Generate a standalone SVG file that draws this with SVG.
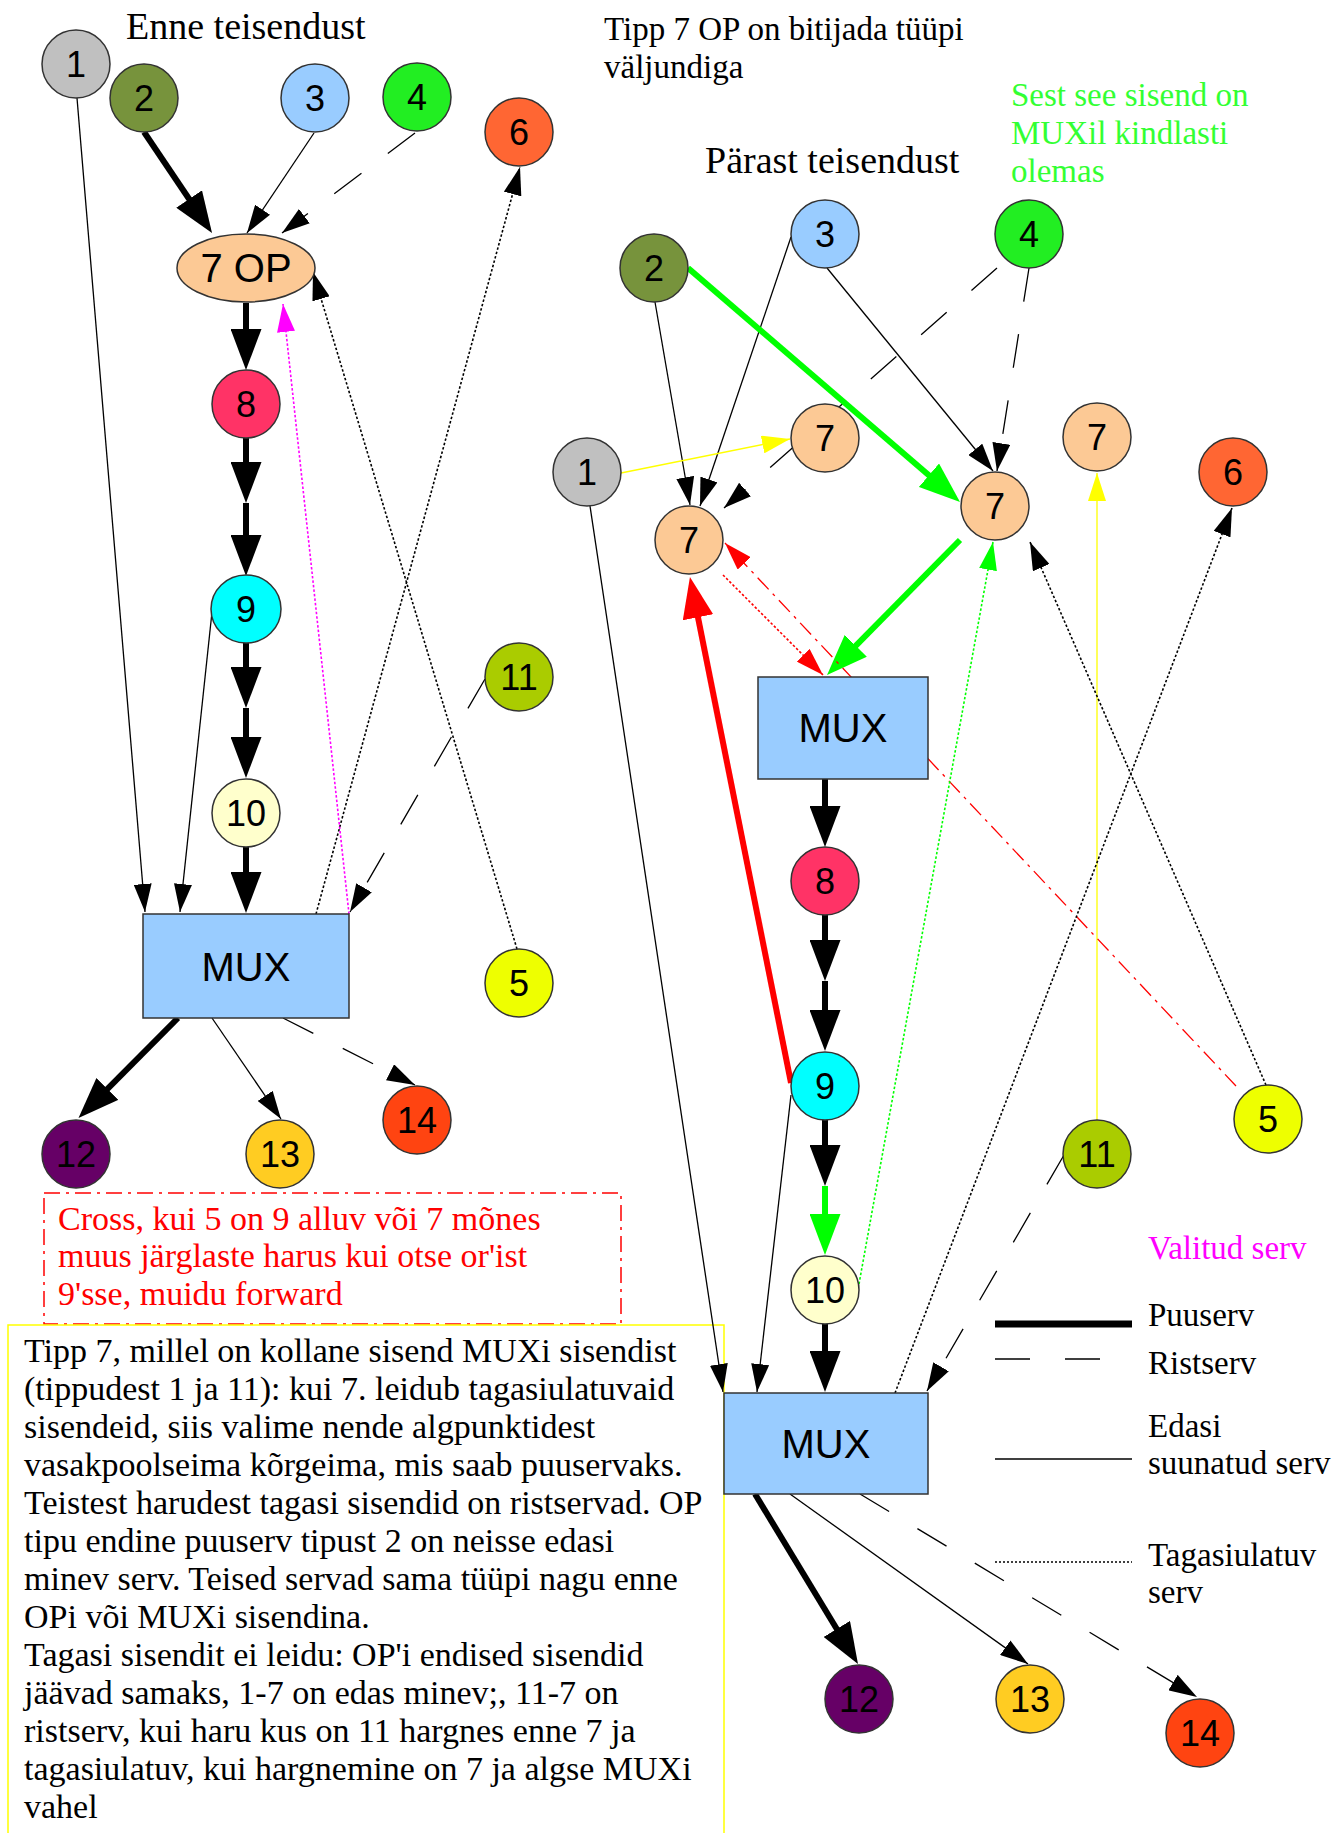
<svg xmlns="http://www.w3.org/2000/svg" width="1342" height="1833" viewBox="0 0 1342 1833">
<style>
.bg{fill:#ffffff}
.nd{stroke:#333333;stroke-width:1.5}
.lbl{font-family:"Liberation Sans",Arial,sans-serif;font-size:36px;text-anchor:middle;fill:#000}
.mux{font-family:"Liberation Sans",Arial,sans-serif;font-size:40px;text-anchor:middle;fill:#000}
.tx{font-family:"Liberation Serif","Times New Roman",serif;font-size:33px;fill:#000}
.tp{font-family:"Liberation Serif","Times New Roman",serif;font-size:34px;fill:#000}
.ttl{font-family:"Liberation Serif","Times New Roman",serif;font-size:38px;fill:#000}
.e{fill:none;stroke:#000;stroke-width:1.3}
.tk{fill:none;stroke:#000;stroke-width:6}
.ds{stroke-dasharray:34 33}
.dt{stroke-dasharray:2.5 2;stroke-width:1.6}
</style>
<defs>
<marker id="ah" viewBox="0 0 28 18" refX="28" refY="9" markerWidth="28" markerHeight="18" markerUnits="userSpaceOnUse" orient="auto"><path d="M0,0L28,9L0,18z" fill="#000"/></marker>
<marker id="AH" viewBox="0 0 41 31" refX="3" refY="15.5" markerWidth="41" markerHeight="31" markerUnits="userSpaceOnUse" orient="auto"><path d="M0,0L41,15.5L0,31z" fill="#000"/></marker>
<marker id="AHG" viewBox="0 0 41 31" refX="3" refY="15.5" markerWidth="41" markerHeight="31" markerUnits="userSpaceOnUse" orient="auto"><path d="M0,0L41,15.5L0,31z" fill="#00ff00"/></marker>
<marker id="AHR" viewBox="0 0 41 31" refX="3" refY="15.5" markerWidth="41" markerHeight="31" markerUnits="userSpaceOnUse" orient="auto"><path d="M0,0L41,15.5L0,31z" fill="#ff0000"/></marker>
<marker id="ahg" viewBox="0 0 28 18" refX="28" refY="9" markerWidth="28" markerHeight="18" markerUnits="userSpaceOnUse" orient="auto"><path d="M0,0L28,9L0,18z" fill="#00ff00"/></marker>
<marker id="ahy" viewBox="0 0 28 18" refX="28" refY="9" markerWidth="28" markerHeight="18" markerUnits="userSpaceOnUse" orient="auto"><path d="M0,0L28,9L0,18z" fill="#ffff00"/></marker>
<marker id="ahr" viewBox="0 0 28 18" refX="28" refY="9" markerWidth="28" markerHeight="18" markerUnits="userSpaceOnUse" orient="auto"><path d="M0,0L28,9L0,18z" fill="#ff0000"/></marker>
<marker id="ahm" viewBox="0 0 28 18" refX="28" refY="9" markerWidth="28" markerHeight="18" markerUnits="userSpaceOnUse" orient="auto"><path d="M0,0L28,9L0,18z" fill="#ff00ff"/></marker>
</defs>
<rect class="bg" x="0" y="0" width="1342" height="1833"/>

<!-- texts -->
<g id="titles">
<text class="ttl" x="126" y="39">Enne teisendust</text>
<text class="tx" x="604" y="40">Tipp 7 OP on bitijada tüüpi</text>
<text class="tx" x="604" y="78">väljundiga</text>
<text class="ttl" x="705" y="173">Pärast teisendust</text>
<text class="tx" x="1011" y="106" style="fill:#33ff33">Sest see sisend on</text>
<text class="tx" x="1011" y="144" style="fill:#33ff33">MUXil kindlasti</text>
<text class="tx" x="1011" y="182" style="fill:#33ff33">olemas</text>
</g>

<!-- red note -->
<g id="rednote">
<rect x="44" y="1193" width="577" height="131" fill="none" stroke="#ff0000" stroke-width="1.5" stroke-dasharray="16 6 3 6"/>
<text class="tp" x="58" y="1230" style="fill:#ff0000">Cross, kui 5 on 9 alluv või 7 mõnes</text>
<text class="tp" x="58" y="1267" style="fill:#ff0000">muus järglaste harus kui otse or'ist</text>
<text class="tp" x="58" y="1305" style="fill:#ff0000">9'sse, muidu forward</text>
</g>

<!-- yellow note -->
<g id="yellownote">
<rect x="8" y="1325" width="716" height="520" fill="#ffffff" stroke="#ffff00" stroke-width="1.5"/>
<text class="tp" x="24" y="1362">Tipp 7, millel on kollane sisend MUXi sisendist</text>
<text class="tp" x="24" y="1400">(tippudest 1 ja 11): kui 7. leidub tagasiulatuvaid</text>
<text class="tp" x="24" y="1438">sisendeid, siis valime nende algpunktidest</text>
<text class="tp" x="24" y="1476">vasakpoolseima kõrgeima, mis saab puuservaks.</text>
<text class="tp" x="24" y="1514">Teistest harudest tagasi sisendid on ristservad. OP</text>
<text class="tp" x="24" y="1552">tipu endine puuserv tipust 2 on neisse edasi</text>
<text class="tp" x="24" y="1590">minev serv. Teised servad sama tüüpi nagu enne</text>
<text class="tp" x="24" y="1628">OPi või MUXi sisendina.</text>
<text class="tp" x="24" y="1666">Tagasi sisendit ei leidu: OP'i endised sisendid</text>
<text class="tp" x="24" y="1704">jäävad samaks, 1-7 on edas minev;, 11-7 on</text>
<text class="tp" x="24" y="1742">ristserv, kui haru kus on 11 hargnes enne 7 ja</text>
<text class="tp" x="24" y="1780">tagasiulatuv, kui hargnemine on 7 ja algse MUXi</text>
<text class="tp" x="24" y="1818">vahel</text>
</g>

<!-- connectors -->
<g id="connectors">
<!-- left -->
<path class="e" d="M77,98L145,912" marker-end="url(#ah)"/>
<path class="tk" d="M144,132L190.8,201.5" marker-end="url(#AH)"/>
<path class="e" d="M314,133L247,233" marker-end="url(#ah)"/>
<path class="e ds" d="M415,133L282,233" marker-end="url(#ah)"/>
<path class="tk" d="M246,303L246,332" marker-end="url(#AH)"/>
<path class="tk" d="M246,438L246,465" marker-end="url(#AH)"/>
<path class="tk" d="M246,503L246,538" marker-end="url(#AH)"/>
<path class="tk" d="M246,643L246,670" marker-end="url(#AH)"/>
<path class="tk" d="M246,708L246,740" marker-end="url(#AH)"/>
<path class="tk" d="M246,846L246,875" marker-end="url(#AH)"/>
<path class="e" d="M212,612L180,912" marker-end="url(#ah)"/>
<path class="tk" d="M178,1018L105.3,1091.1" marker-end="url(#AH)"/>
<path class="e" d="M212,1018L281,1119" marker-end="url(#ah)"/>
<path class="e ds" d="M283,1018L415,1085" marker-end="url(#ah)"/>
<path class="e ds" d="M485,679L350,912" marker-end="url(#ah)"/>
<path class="e dt" d="M316,914L520,167" marker-end="url(#ah)"/>
<path class="e dt" d="M517,949L313,272" marker-end="url(#ah)"/>
<path class="e dt" d="M349,914L283,304" style="stroke:#ff00ff" marker-end="url(#ahm)"/>
<!-- right -->
<path class="e" d="M655,302L690,505" marker-end="url(#ah)"/>
<path class="e" d="M791,237L700,506" marker-end="url(#ah)"/>
<path class="e" d="M827,268L993,471" marker-end="url(#ah)"/>
<path class="e ds" d="M1029,268L997,471" marker-end="url(#ah)"/>
<path class="e ds" d="M997,268L724,508" marker-end="url(#ah)"/>
<path class="tk" d="M688,268L931.2,477.2" style="stroke:#00ff00" marker-end="url(#AHG)"/>
<path class="e" d="M621,473L790,439" style="stroke:#ffff00" marker-end="url(#ahy)"/>
<path class="e" d="M1097,1120L1097,473" style="stroke:#ffff00" marker-end="url(#ahy)"/>
<path class="tk" d="M960,540L853.7,647.9" style="stroke:#00ff00" marker-end="url(#AHG)"/>
<path class="e dt" d="M723,575L823,675" style="stroke:#ff0000" marker-end="url(#ahr)"/>
<path class="e" d="M1236,1086L725,543" style="stroke:#ff0000;stroke-dasharray:16 6 3 6" marker-end="url(#ahr)"/>
<path class="tk" d="M791,1083L697.4,614.3" style="stroke:#ff0000" marker-end="url(#AHR)"/>
<path class="e dt" d="M859,1284L993,542" style="stroke:#00ff00" marker-end="url(#ahg)"/>
<path class="e dt" d="M1266,1085L1030,542" marker-end="url(#ah)"/>
<path class="e dt" d="M895,1393L1232,508" marker-end="url(#ah)"/>
<path class="tk" d="M825,779L825,809" marker-end="url(#AH)"/>
<path class="tk" d="M825,914L825,943" marker-end="url(#AH)"/>
<path class="tk" d="M825,981L825,1013" marker-end="url(#AH)"/>
<path class="tk" d="M825,1119L825,1148" marker-end="url(#AH)"/>
<path class="tk" d="M825,1186L825,1217" style="stroke:#00ff00" marker-end="url(#AHG)"/>
<path class="tk" d="M825,1323L825,1354" marker-end="url(#AH)"/>
<path class="e" d="M590,506L723,1392" marker-end="url(#ah)"/>
<path class="e" d="M791,1095L757,1392" marker-end="url(#ah)"/>
<path class="e ds" d="M1064,1155L927,1391" marker-end="url(#ah)"/>
<path class="tk" d="M755,1494L838.3,1631.5" marker-end="url(#AH)"/>
<path class="e" d="M790,1494L1028,1664" marker-end="url(#ah)"/>
<path class="e ds" d="M860,1494L1197,1697" marker-end="url(#ah)"/>
</g>

<!-- left nodes -->
<g id="L1"><circle class="nd" cx="76" cy="64" r="34" fill="#c0c0c0"/><text class="lbl" x="76" y="77">1</text></g>
<g id="L2"><circle class="nd" cx="144" cy="98" r="34" fill="#77933c"/><text class="lbl" x="144" y="111">2</text></g>
<g id="L3"><circle class="nd" cx="315" cy="98" r="34" fill="#99ccff"/><text class="lbl" x="315" y="111">3</text></g>
<g id="L4"><circle class="nd" cx="417" cy="97" r="34" fill="#22ee22"/><text class="lbl" x="417" y="110">4</text></g>
<g id="L6"><circle class="nd" cx="519" cy="132" r="34" fill="#ff6633"/><text class="lbl" x="519" y="145">6</text></g>
<g id="L7OP"><ellipse class="nd" cx="246" cy="268" rx="69" ry="34" fill="#fcc995"/><text class="mux" x="246" y="282">7 OP</text></g>
<g id="L8"><circle class="nd" cx="246" cy="404" r="34" fill="#ff3366"/><text class="lbl" x="246" y="417">8</text></g>
<g id="L9"><ellipse class="nd" cx="246" cy="609" rx="35" ry="34" fill="#00ffff"/><text class="lbl" x="246" y="622">9</text></g>
<g id="L10"><circle class="nd" cx="246" cy="813" r="34" fill="#ffffcc"/><text class="lbl" x="246" y="826">10</text></g>
<g id="LMUX"><rect class="nd" x="143" y="914" width="206" height="104" fill="#99ccff"/><text class="mux" x="246" y="981">MUX</text></g>
<g id="L11"><circle class="nd" cx="519" cy="677" r="34" fill="#aacc00"/><text class="lbl" x="519" y="690">11</text></g>
<g id="L5"><circle class="nd" cx="519" cy="983" r="34" fill="#eeff00"/><text class="lbl" x="519" y="996">5</text></g>
<g id="L12"><circle class="nd" cx="76" cy="1154" r="34" fill="#660066"/><text class="lbl" x="76" y="1167">12</text></g>
<g id="L13"><circle class="nd" cx="280" cy="1154" r="34" fill="#ffcc22"/><text class="lbl" x="280" y="1167">13</text></g>
<g id="L14"><circle class="nd" cx="417" cy="1120" r="34" fill="#ff4411"/><text class="lbl" x="417" y="1133">14</text></g>

<!-- right nodes -->
<g id="R3"><circle class="nd" cx="825" cy="234" r="34" fill="#99ccff"/><text class="lbl" x="825" y="247">3</text></g>
<g id="R2"><circle class="nd" cx="654" cy="268" r="34" fill="#77933c"/><text class="lbl" x="654" y="281">2</text></g>
<g id="R4"><circle class="nd" cx="1029" cy="234" r="34" fill="#22ee22"/><text class="lbl" x="1029" y="247">4</text></g>
<g id="R1"><circle class="nd" cx="587" cy="472" r="34" fill="#c0c0c0"/><text class="lbl" x="587" y="485">1</text></g>
<g id="R7a"><circle class="nd" cx="825" cy="438" r="34" fill="#fcc995"/><text class="lbl" x="825" y="451">7</text></g>
<g id="R7b"><circle class="nd" cx="689" cy="540" r="34" fill="#fcc995"/><text class="lbl" x="689" y="553">7</text></g>
<g id="R7c"><circle class="nd" cx="995" cy="506" r="34" fill="#fcc995"/><text class="lbl" x="995" y="519">7</text></g>
<g id="R7d"><circle class="nd" cx="1097" cy="437" r="34" fill="#fcc995"/><text class="lbl" x="1097" y="450">7</text></g>
<g id="R6"><circle class="nd" cx="1233" cy="472" r="34" fill="#ff6633"/><text class="lbl" x="1233" y="485">6</text></g>
<g id="RMUX1"><rect class="nd" x="758" y="677" width="170" height="102" fill="#99ccff"/><text class="mux" x="843" y="742">MUX</text></g>
<g id="R8"><circle class="nd" cx="825" cy="881" r="34" fill="#ff3366"/><text class="lbl" x="825" y="894">8</text></g>
<g id="R9"><circle class="nd" cx="825" cy="1086" r="34" fill="#00ffff"/><text class="lbl" x="825" y="1099">9</text></g>
<g id="R5"><circle class="nd" cx="1268" cy="1119" r="34" fill="#eeff00"/><text class="lbl" x="1268" y="1132">5</text></g>
<g id="R11"><circle class="nd" cx="1097" cy="1154" r="34" fill="#aacc00"/><text class="lbl" x="1097" y="1167">11</text></g>
<g id="R10"><circle class="nd" cx="825" cy="1290" r="34" fill="#ffffcc"/><text class="lbl" x="825" y="1303">10</text></g>
<g id="RMUX2"><rect class="nd" x="724" y="1393" width="204" height="101" fill="#99ccff"/><text class="mux" x="826" y="1458">MUX</text></g>
<g id="R12"><circle class="nd" cx="859" cy="1699" r="34" fill="#660066"/><text class="lbl" x="859" y="1712">12</text></g>
<g id="R13"><circle class="nd" cx="1030" cy="1699" r="34" fill="#ffcc22"/><text class="lbl" x="1030" y="1712">13</text></g>
<g id="R14"><circle class="nd" cx="1200" cy="1733" r="34" fill="#ff4411"/><text class="lbl" x="1200" y="1746">14</text></g>

<!-- legend -->
<g id="legend">
<text class="tx" x="1148" y="1259" style="fill:#ff00ff">Valitud serv</text>
<line x1="995" y1="1324" x2="1132" y2="1324" stroke="#000" stroke-width="7"/>
<text class="tx" x="1148" y="1326">Puuserv</text>
<line x1="995" y1="1359" x2="1132" y2="1359" stroke="#000" stroke-width="1.5" stroke-dasharray="35 35"/>
<text class="tx" x="1148" y="1374">Ristserv</text>
<line x1="995" y1="1459" x2="1132" y2="1459" stroke="#000" stroke-width="1.5"/>
<text class="tx" x="1148" y="1437">Edasi</text>
<text class="tx" x="1148" y="1474">suunatud serv</text>
<line x1="995" y1="1562" x2="1132" y2="1562" stroke="#000" stroke-width="1.5" stroke-dasharray="2 2"/>
<text class="tx" x="1148" y="1566">Tagasiulatuv</text>
<text class="tx" x="1148" y="1603">serv</text>
</g>
</svg>
